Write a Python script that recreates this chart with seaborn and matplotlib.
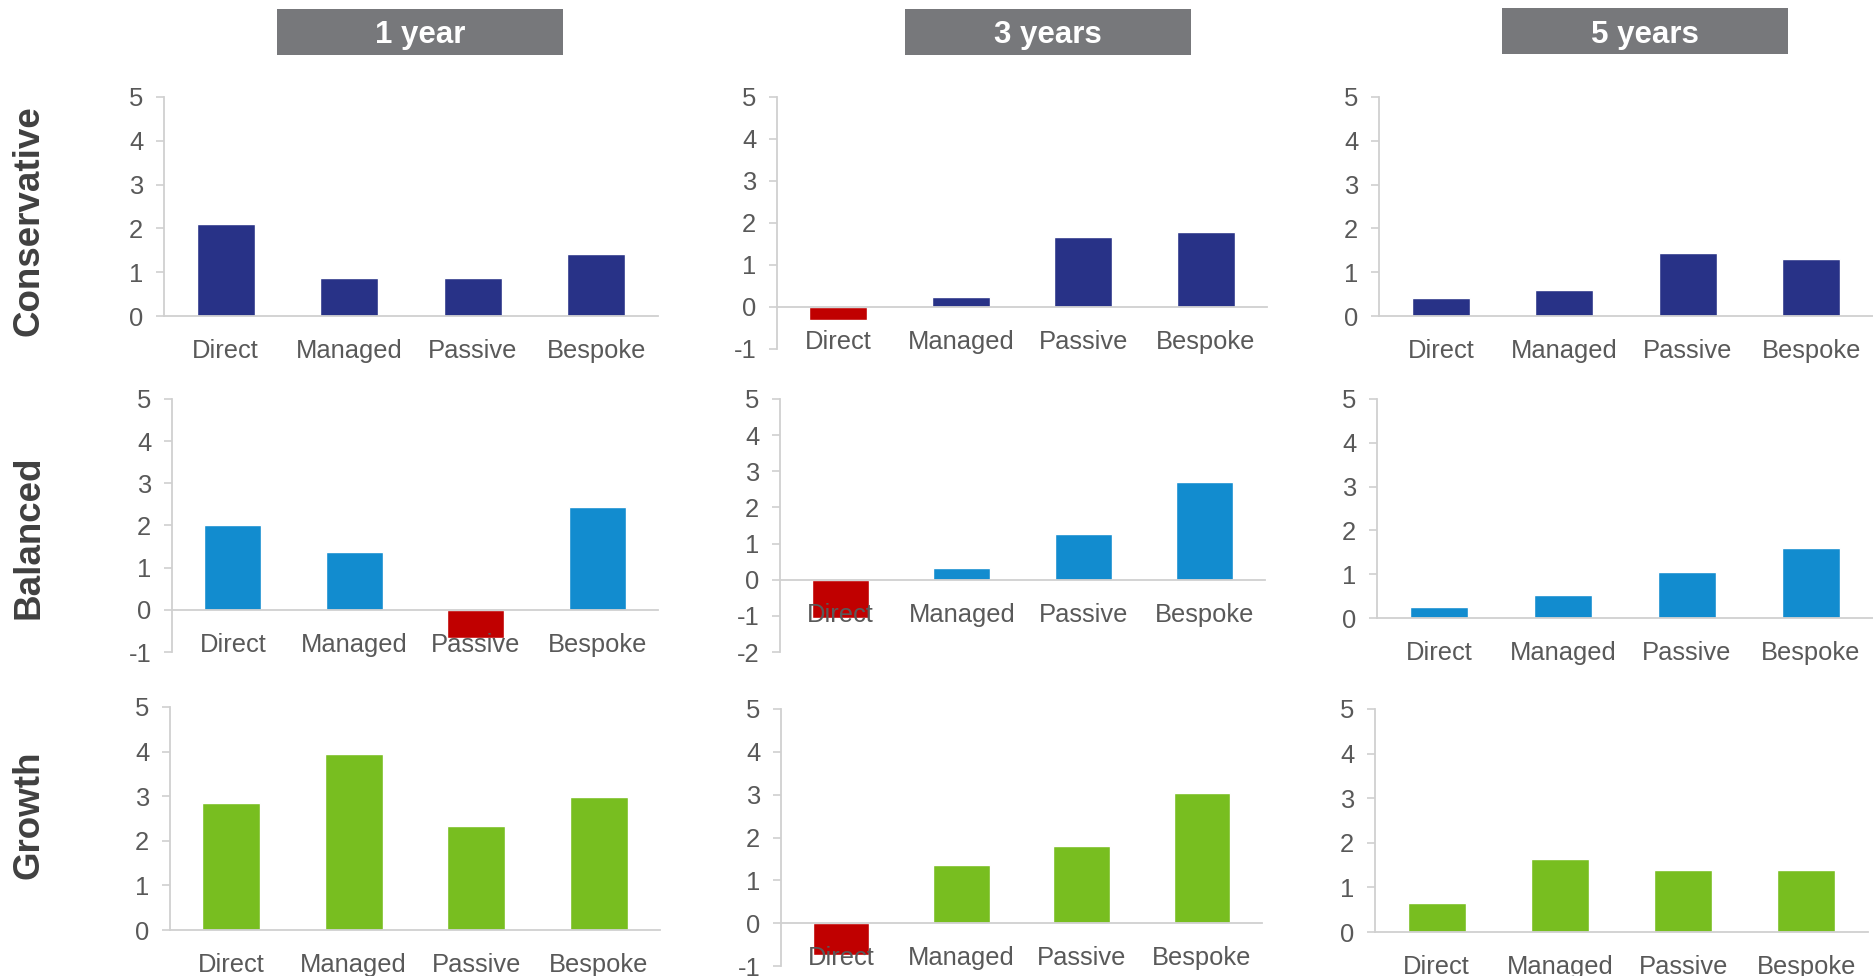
import matplotlib
matplotlib.use("Agg")
import matplotlib.pyplot as plt
from matplotlib.patches import Rectangle
import seaborn as sns
import pandas as pd

# ---- data ----
categories = ["Direct", "Managed", "Passive", "Bespoke"]
periods = ["1 year", "3 years", "5 years"]
profiles = ["Conservative", "Balanced", "Growth"]

conservative_1y = [2.10, 0.86, 0.86, 1.41]
conservative_3y = [-0.31, 0.24, 1.67, 1.78]
conservative_5y = [0.42, 0.60, 1.44, 1.31]

balanced_1y = [2.00, 1.38, -0.67, 2.45]
balanced_3y = [-1.07, 0.32, 1.27, 2.69]
balanced_5y = [0.24, 0.53, 1.05, 1.60]

growth_1y = [2.84, 3.94, 2.33, 2.99]
growth_3y = [-0.74, 1.35, 1.81, 3.03]
growth_5y = [0.64, 1.63, 1.38, 1.38]

values = {
    ("Conservative", "1 year"): conservative_1y,
    ("Conservative", "3 years"): conservative_3y,
    ("Conservative", "5 years"): conservative_5y,
    ("Balanced", "1 year"): balanced_1y,
    ("Balanced", "3 years"): balanced_3y,
    ("Balanced", "5 years"): balanced_5y,
    ("Growth", "1 year"): growth_1y,
    ("Growth", "3 years"): growth_3y,
    ("Growth", "5 years"): growth_5y,
}

y_limits = {
    ("Conservative", "1 year"): (0, 5),
    ("Conservative", "3 years"): (-1, 5),
    ("Conservative", "5 years"): (0, 5),
    ("Balanced", "1 year"): (-1, 5),
    ("Balanced", "3 years"): (-2, 5),
    ("Balanced", "5 years"): (0, 5),
    ("Growth", "1 year"): (0, 5),
    ("Growth", "3 years"): (-1, 5),
    ("Growth", "5 years"): (0, 5),
}

row_colors = {"Conservative": "#283287", "Balanced": "#128CCF", "Growth": "#78BE20"}
neg_color = "#C00000"

# ---- layout (pixels: left, right, top, bottom) ----
W, H = 1873, 976
boxes = {
    ("Conservative", "1 year"): (164, 658, 97, 316),
    ("Conservative", "3 years"): (777, 1267, 97, 349),
    ("Conservative", "5 years"): (1379, 1873, 97, 316),
    ("Balanced", "1 year"): (172, 658, 399, 652),
    ("Balanced", "3 years"): (780, 1265, 399, 652),
    ("Balanced", "5 years"): (1377, 1873, 399, 618),
    ("Growth", "1 year"): (170, 660, 707, 930),
    ("Growth", "3 years"): (781, 1262, 709, 966),
    ("Growth", "5 years"): (1375, 1868, 709, 932),
}
title_boxes = {"1 year": (277, 563, 9, 55), "3 years": (905, 1191, 9, 55), "5 years": (1502, 1788, 8, 54)}
row_label_y = {"Conservative": 221, "Balanced": 537, "Growth": 815}

sns.set_style("white")
plt.rcParams["font.family"] = ["Liberation Sans", "DejaVu Sans"]
plt.rcParams["axes.unicode_minus"] = False

fig = plt.figure(figsize=(W / 100, H / 100), dpi=100)

spine_col = "#D0D0D0"
text_col = "#595959"

for prof in profiles:
    for per in periods:
        l, r, t, b = boxes[(prof, per)]
        ax = fig.add_axes([l / W, 1 - b / H, (r - l) / W, (b - t) / H])
        vals = values[(prof, per)]
        df = pd.DataFrame({"cat": categories, "val": vals})
        pal = [neg_color if v < 0 else row_colors[prof] for v in vals]
        sns.barplot(data=df, x="cat", y="val", hue="cat", palette=pal, legend=False,
                    width=0.47, saturation=1, ax=ax, order=categories, hue_order=categories)
        lo, hi = y_limits[(prof, per)]
        ax.set_ylim(lo, hi)
        ax.set_xlim(-0.5, 3.5)
        ax.set_yticks(range(lo, hi + 1))
        ax.set_xlabel("")
        ax.set_ylabel("")
        for s in ["top", "right"]:
            ax.spines[s].set_visible(False)
        ax.spines["left"].set_color(spine_col)
        ax.spines["bottom"].set_color(spine_col)
        ax.spines["left"].set_linewidth(1.3)
        ax.spines["bottom"].set_linewidth(1.3)
        ax.spines["bottom"].set_position(("data", 0))
        ax.tick_params(axis="y", which="both", left=True, length=6, width=1.2,
                       color=spine_col, labelsize=18.4, labelcolor=text_col, pad=9)
        ax.tick_params(axis="x", which="both", bottom=False, length=0,
                       labelsize=18.4, labelcolor=text_col, pad=16.5)
        ax.xaxis.set_zorder(10)
        ax.yaxis.set_zorder(10)
        ax.set_facecolor("none")
        ax.patch.set_alpha(0)

# column titles
for per in periods:
    l, r, t, b = title_boxes[per]
    fig.patches.append(Rectangle((l / W, 1 - b / H), (r - l) / W, (b - t) / H,
                                 transform=fig.transFigure, facecolor="#77787B",
                                 edgecolor="none", zorder=0))
    fig.text((l + r) / 2 / W, 1 - (b - 11.5) / H, per, ha="center", va="baseline",
             color="white", fontsize=22.5, fontweight="bold")

# row labels
for prof in profiles:
    fig.text(29 / W, 1 - row_label_y[prof] / H, prof, rotation=90, ha="center", va="center",
             color="#404040", fontsize=26.5, fontweight="bold")

fig.savefig("out.png", dpi=100)
